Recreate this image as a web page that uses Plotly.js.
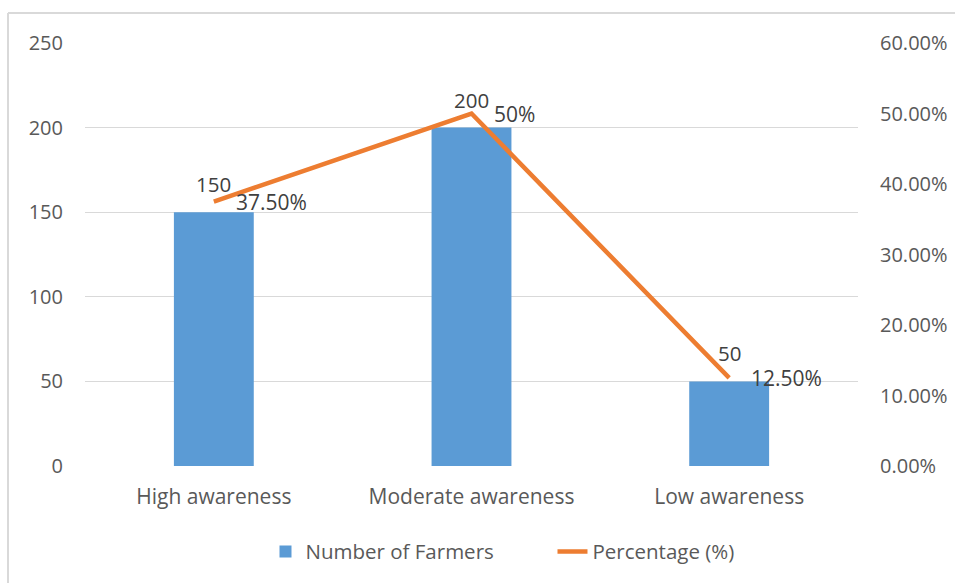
<!DOCTYPE html>
<html>
<head>
<meta charset="utf-8">
<script src="https://cdn.plot.ly/plotly-3.0.1.min.js"></script>
<style>html,body{margin:0;padding:0;background:#fff;}#chart{width:955px;height:583px;}</style>
</head>
<body>
<div id="chart"></div>
<script>
const categories = ["High awareness", "Moderate awareness", "Low awareness"];
const farmers = [150, 200, 50];
const percentages = [0.375, 0.50, 0.125];
const percentLabels = ["37.50%", "50%", "12.50%"];
const farmerLabels = ["150", "200", "50"];

const FONT = "'Open Sans', 'Noto Sans', sans-serif";
const TXT = "#595959";

const traces = [
  {
    type: "bar", name: "Number of Farmers", x: categories, y: farmers,
    marker: {color: "#5B9BD5"}, width: 0.31, yaxis: "y"
  },
  {
    type: "scatter", mode: "lines", name: "Percentage (%)", x: categories, y: percentages,
    line: {color: "#ED7D31", width: 4.5}, yaxis: "y2"
  }
];

const annotations = [];
categories.forEach((c, i) => {
  annotations.push({x: c, y: farmers[i], xref: "x", yref: "y", text: farmerLabels[i],
    showarrow: false, yanchor: "bottom", xanchor: "center", yshift: 12,
    font: {family: FONT, size: 20.5, color: "#404040"}});
  annotations.push({x: c, y: percentages[i], xref: "x", yref: "y2", text: percentLabels[i],
    showarrow: false, yanchor: "middle", xanchor: "left", xshift: 20, yshift: 0,
    font: {family: FONT, size: 21, color: "#404040"}});
});

const layout = {
  width: 955, height: 583,
  margin: {l: 85, r: 97, t: 43, b: 117},
  paper_bgcolor: "#fff", plot_bgcolor: "#fff",
  font: {family: FONT, size: 20, color: TXT},
  showlegend: true,
  legend: {orientation: "h", x: 0.2335, xanchor: "left", y: -0.155, yanchor: "top",
    font: {family: FONT, size: 20.5, color: TXT}, traceorder: "normal",
    entrywidth: 242, entrywidthmode: "pixels"},
  xaxis: {type: "category", showgrid: false, zeroline: false, showline: false, ticks: "",
    tickfont: {family: FONT, size: 21, color: TXT}, ticklabelstandoff: 16},
  yaxis: {range: [0, 250], dtick: 50, tick0: 0, showgrid: true, gridcolor: "#D9D9D9", gridwidth: 1.3,
    zeroline: false, showline: false, ticks: "", tickfont: {family: FONT, size: 20, color: TXT},
    ticklabelstandoff: 21},
  yaxis2: {range: [0, 0.6], dtick: 0.1, tick0: 0, overlaying: "y", side: "right", tickformat: ".2%",
    showgrid: false, zeroline: false, showline: false, ticks: "",
    tickfont: {family: FONT, size: 20, color: TXT}, ticklabelstandoff: 21},
  annotations: annotations,
  shapes: [
    {type: "line", xref: "paper", yref: "paper", x0: -0.0996, x1: -0.0996, y0: -0.3, y1: 1.0709,
      line: {color: "#D9D9D9", width: 2}},
    {type: "line", xref: "paper", yref: "paper", x0: -0.0996, x1: 1.13, y0: 1.0709, y1: 1.0709,
      line: {color: "#D9D9D9", width: 2}}
  ]
};

Plotly.newPlot("chart", traces, layout, {displayModeBar: false, staticPlot: true});
</script>
</body>
</html>
